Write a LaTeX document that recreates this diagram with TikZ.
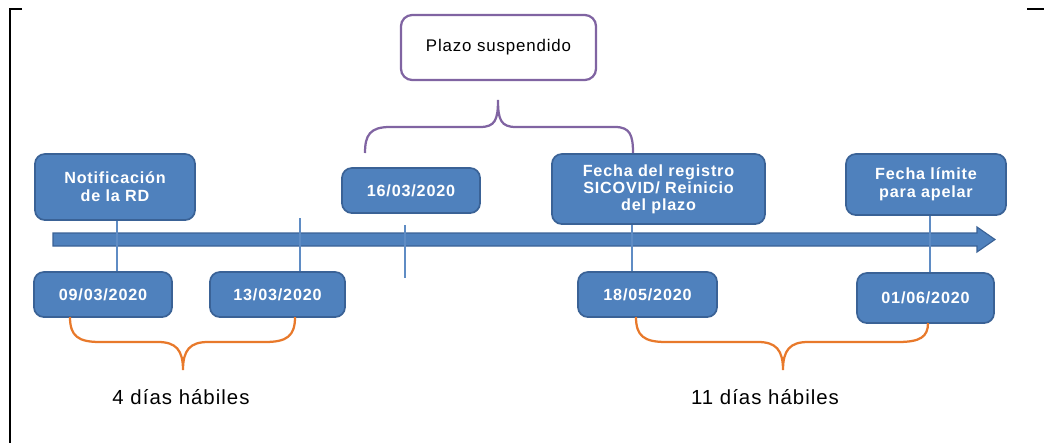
\documentclass[tikz,border=0pt]{standalone}
\usepackage{fontspec}
\setmainfont{Liberation Sans}[LetterSpace=5]
\usepackage{tikz}
\definecolor{azul}{HTML}{4F81BD}
\definecolor{azulosc}{HTML}{3A6296}
\definecolor{azulclaro}{HTML}{5F8CC4}
\definecolor{morado}{HTML}{8064A2}
\definecolor{naranja}{HTML}{E8792B}

\begin{document}
\begin{tikzpicture}[x=0.025cm,y=-0.025cm]
        \tikzstyle{every node}+=[inner sep=0pt]
        \tikzstyle{caja}=[draw=azulosc, line width=1.2pt, fill=azul, rounded corners=7pt, text=white, align=center, font=\fontsize{11.5}{13}\selectfont\bfseries]
        \tikzstyle{marca}=[azulclaro, line width=0.8pt]
        \tikzstyle{llave}=[line width=1.6pt]
        \useasboundingbox (0,0) rectangle (1044,443);
        % marco
        \draw [black, line width=2pt] (22,9) -- (10,9) -- (10,443);
        \draw [black, line width=2pt] (1027,9) -- (1044,9);
        % plazo suspendido
        \node [draw=morado, line width=1.6pt, fill=white, rounded corners=8pt, minimum width=4.875cm, minimum height=1.625cm, font=\fontsize{12}{14}\selectfont] (plazo) at (498.5,47.5) {Plazo suspendido};
        \draw [morado, llave] (365,153) .. controls (365,135) and (370,127) .. (390,127) -- (480,127) .. controls (495,127) and (498,120) .. (498,100) .. controls (498,120) and (501,127) .. (516,127) -- (615,127) .. controls (630,127) and (633,135) .. (633,153);
        % cajas de arriba
        \node [caja, minimum width=4cm, minimum height=1.65cm] (notif) at (115,187) {Notificación\\de la RD};
        \node [caja, minimum width=3.45cm, minimum height=1.125cm] (d1603) at (411,190.5) {16/03/2020};
        \node [caja, minimum width=5.325cm, minimum height=1.75cm, font=\fontsize{11.5}{12}\selectfont\bfseries] (registro) at (658.5,189) {Fecha del registro\\SICOVID/ Reinicio\\del plazo};
        \node [caja, minimum width=4cm, minimum height=1.525cm] (limite) at (926,184.5) {Fecha límite\\para apelar};
        % cajas de abajo
        \node [caja, minimum width=3.45cm, minimum height=1.125cm] (d0903) at (103,294.5) {09/03/2020};
        \node [caja, minimum width=3.375cm, minimum height=1.125cm] (d1303) at (277.5,294.5) {13/03/2020};
        \node [caja, minimum width=3.475cm, minimum height=1.125cm] (d1805) at (647.5,294.5) {18/05/2020};
        \node [caja, minimum width=3.425cm, minimum height=1.25cm] (d0106) at (925.5,298) {01/06/2020};
        % linea de tiempo
        \draw [azulosc, line width=0.8pt, fill=azul] (53,233) -- (977,233) -- (977,227) -- (995,239.5) -- (977,252) -- (977,246) -- (53,246) -- cycle;
        % marcas
        \coordinate (m1) at (117,0);
        \coordinate (m2a) at (300,218);
        \coordinate (m2) at (300,0);
        \coordinate (m3a) at (405,225);
        \coordinate (m3b) at (405,278);
        \coordinate (m4) at (632,0);
        \coordinate (m5) at (930,0);
        \draw [marca] (notif.south -| m1) -- (d0903.north -| m1);
        \draw [marca] (m2a) -- (d1303.north -| m2);
        \draw [marca] (m3a) -- (m3b);
        \draw [marca] (registro.south -| m4) -- (d1805.north -| m4);
        \draw [marca] (limite.south -| m5) -- (d0106.north -| m5);
        % llaves naranjas
        \draw [naranja, llave] (70,317) .. controls (70,336) and (78,342) .. (100,342) -- (158,342) .. controls (176,342) and (183,350) .. (183,370) .. controls (183,350) and (190,342) .. (208,342) -- (265,342) .. controls (287,342) and (295,336) .. (295,317);
        \draw [naranja, llave] (636,317) .. controls (636,336) and (644,342) .. (666,342) -- (758,342) .. controls (776,342) and (783,350) .. (783,370) .. controls (783,350) and (790,342) .. (808,342) -- (898,342) .. controls (920,342) and (928,337) .. (928,323);
        \node [font=\fontsize{14.5}{16}\selectfont] (dias4) at (181,397) {4 días hábiles};
        \node [font=\fontsize{14.5}{16}\selectfont] (dias11) at (765,397) {11 días hábiles};
\end{tikzpicture}
\end{document}
